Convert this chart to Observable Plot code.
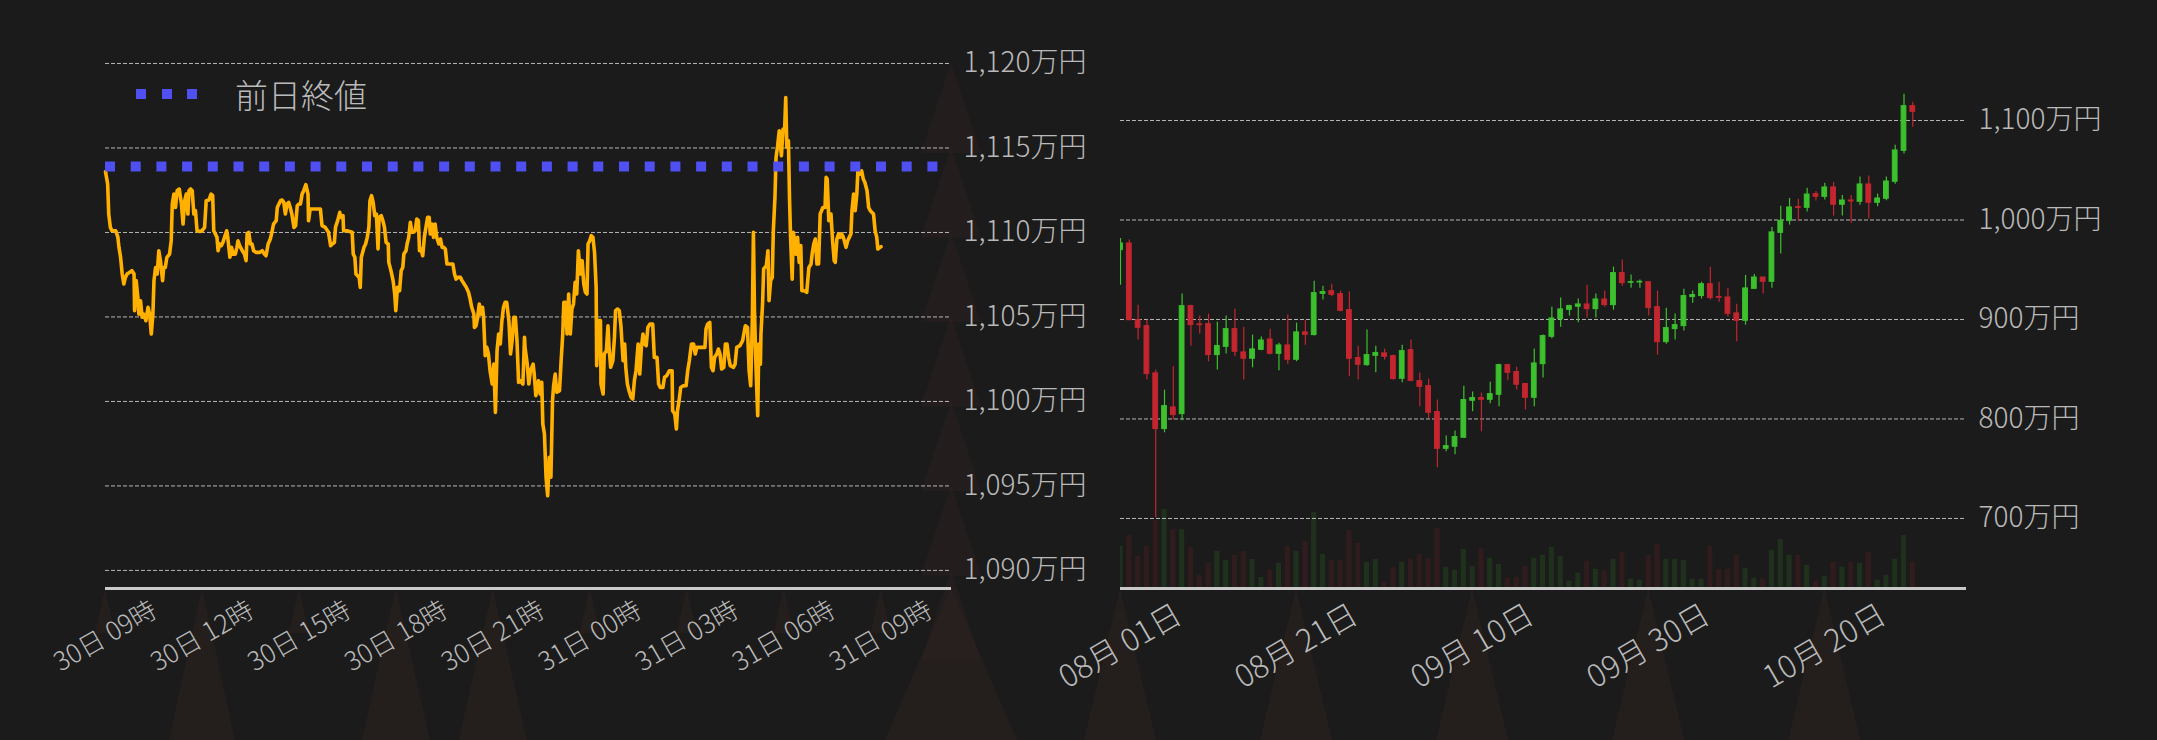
<!DOCTYPE html>
<html><head><meta charset="utf-8">
<script src="https://cdn.jsdelivr.net/npm/d3@7"></script>
<script src="https://cdn.jsdelivr.net/npm/@observablehq/plot@0.6"></script>
<style>
html,body{margin:0;padding:0;background:#1b1b1b;}
#wrap{position:relative;width:2157px;height:740px;overflow:hidden;background:#1b1b1b;font-family:"Noto Sans CJK JP","Noto Sans",sans-serif;}
#wrap > svg, #wrap > div.p{position:absolute;top:0;}
.sq{position:absolute;width:10px;height:10px;background:#4f4ff2;}
#lg{position:absolute;left:235px;top:76px;font-size:33px;line-height:36px;color:#bababa;font-weight:300;}
</style></head><body><div id="wrap"></div>
<script>
// ---------------- Left: intraday (万円) ----------------
const intradayMinutes = [0,4,6,9,12,19,20,23,25,28,31,34,37,40,45,49,53,54,57,60,62,65,68,71,75,79,82,85,88,90,93,96,99,102,106,108,111,114,119,122,124,127,130,133,137,141,144,147,150,153,155,158,161,164,167,170,175,179,184,187,192,196,199,201,204,207,209,212,215,218,221,225,227,231,234,237,241,244,246,249,254,258,261,263,266,269,272,275,280,286,291,295,298,302,306,309,312,317,319,322,325,328,331,334,337,340,343,346,350,353,356,359,362,365,368,372,376,377,380,387,396,
399,402,408,414,418,421,425,427,431,435,437,441,442,448,458,460,463,465,468,471,473,475,480,483,486,489,491,494,497,500,503,506,508,512,515,518,521,525,526,530,534,537,539,542,546,549,552,554,558,560,563,566,569,572,575,578,581,583,586,589,592,595,598,601,603,606,609,612,615,619,622,625,628,631,634,640,645,648,651,654,659,662,666,670,674,677,680,684,685,688,691,694,697,700,702,705,708,711,714,718,721,724,727,730,733,736,739,742,745,749,752,755,758,761,764,767,770,775,778,779,783,786,789,
794,796,799,804,807,810,812,815,818,821,824,827,830,832,835,838,843,846,849,851,854,857,860,863,866,869,872,875,878,882,885,888,891,894,896,899,902,905,908,911,912,916,919,920,924,926,930,933,935,938,942,945,947,951,954,957,961,964,966,969,972,976,979,982,985,989,992,995,998,1001,1004,1007,1011,1016,1019,1024,1027,1030,1035,1038,1042,1047,1052,1053,1057,1060,1062,1065,1068,1073,1078,1081,1084,1088,1092,1095,1098,1104,1113,1115,1118,1122,1125,1128,1131,1135,1138,1141,1144,1148,1151,1154,1157,1160,1166,1169,1172,1178,
1183,1188,1192,1195,1198,1201,1203,1205,1208,1211,1213,1216,1217,1220,1222,1227,1230,1232,1235,1238,1240,1243,1245,1248,1251,1255,1258,1261,1263,1265,1268,1270,1272,1275,1277,1280,1282,1285,1288,1291,1293,1297,1302,1306,1310,1312,1315,1318,1321,1324,1327,1332,1336,1338,1340,1343,1347,1350,1353,1355,1358,1361,1364,1367,1370,1375,1378,1381,1384,1386,1389,1392,1395,1397,1401,1404,1407,1410,1414,1417,1420,1426,1429,1432,1434,1438,1440];
const intradayPrice = [1113.6,1112.87,1111.09,1110.30,1110.10,1110.10,1110.01,1109.71,1109.12,1108.53,1107.54,1106.95,1107.34,1107.54,1107.64,1107.74,1107.54,1105.37,1107.15,1106.16,1105.17,1105.96,1104.98,1105.17,1104.78,1105.57,1105.17,1103.99,1105.17,1107.15,1107.93,1107.54,1108.92,1108.33,1107.15,1107.93,1107.93,1108.53,1108.72,1109.51,1111.68,1112.27,1111.48,1112.47,1112.57,1111.68,1110.50,1111.88,1112.27,1111.09,1112.47,1112.57,1112.47,1111.09,1111.29,1110.10,1110.06,1110.10,1110.30,1111.88,1111.92,1112.27,1112.18,1110.10,1109.91,1109.71,1108.92,1109.32,1109.22,1109.41,1109.71,1110.10,1109.71,1108.53,1109.12,1108.72,1108.72,1109.12,1109.51,1109.22,1108.92,1108.72,1108.33,1109.91,1110.01,1109.32,1109.32,1108.92,1108.82,1108.82,1108.92,1108.72,1108.62,1109.32,1109.61,1110.01,1110.50,1110.70,1111.48,1111.68,1111.88,1111.92,1111.78,1111.09,1111.68,1111.78,1111.48,1111.09,1110.30,1110.40,1111.58,1111.68,1111.68,1112.27,1112.47,1112.83,1112.27,1110.70,1111.39,1111.39,1111.39,
1111.39,1110.40,1110.30,1110.01,1109.22,1109.32,1109.41,1110.30,1110.70,1111.19,1110.89,1110.99,1110.10,1110.10,1110.01,1108.72,1108.53,1107.54,1107.44,1107.34,1106.75,1108.53,1109.12,1109.32,1109.71,1110.30,1111.88,1112.18,1111.78,1110.99,1111.09,1109.02,1110.89,1110.99,1110.70,1110.30,1109.41,1109.32,1108.23,1107.74,1107.15,1106.36,1105.37,1106.75,1106.55,1107.74,1107.93,1108.72,1108.92,1109.32,1109.71,1110.60,1110.01,1110.01,1110.10,1110.79,1110.70,1108.92,1109.02,1108.62,1109.71,1110.30,1110.89,1110.89,1109.91,1110.50,1109.71,1110.50,1109.71,1109.32,1109.61,1109.12,1109.12,1109.02,1108.13,1108.13,1108.13,1107.54,1107.24,1107.34,1107.34,1107.15,1106.95,1106.75,1106.46,1106.06,1105.57,1105.17,1104.38,1104.48,1104.98,1105.77,1105.17,1105.57,1104.98,1102.71,1103.20,1102.81,1101.82,1101.03,1102.21,1099.35,1103.00,1103.99,1103.40,1104.78,1105.57,1105.86,1105.86,1104.78,1102.81,1103.60,1104.98,1104.98,1103.60,1101.13,1101.23,1101.03,1103.79,1103.20,1102.21,1101.03,1101.82,
1102.21,1101.62,1100.34,1101.23,1100.44,1101.13,1098.66,1098.07,1095.51,1094.42,1096.69,1095.51,1100.05,1100.93,1101.62,1100.54,1100.64,1102.41,1103.99,1105.86,1105.86,1103.99,1106.36,1103.99,1105.47,1105.77,1107.05,1106.36,1108.92,1107.54,1108.33,1106.95,1106.46,1106.36,1109.32,1109.51,1109.81,1109.71,1108.82,1106.75,1102.12,1104.78,1104.78,1101.03,1100.44,1102.81,1103.00,1104.48,1103.20,1102.02,1102.41,1103.79,1105.37,1105.47,1105.37,1104.48,1102.41,1103.40,1102.02,1101.03,1100.64,1100.24,1100.14,1101.23,1101.82,1103.40,1101.62,1103.20,1103.99,1103.40,1103.30,1104.38,1104.58,1104.58,1102.61,1102.61,1101.03,1100.83,1100.83,1101.43,1101.52,1101.82,1101.82,1099.45,1099.26,1098.37,1099.45,1100.05,1100.83,1100.93,1100.93,1101.82,1102.41,1103.40,1103.40,1102.81,1103.20,1103.20,1103.20,1104.29,1104.58,1104.68,1102.02,1101.82,1102.61,1102.81,1103.10,1102.81,1101.92,1102.02,1103.40,1103.40,1102.61,1102.12,1102.02,1102.21,1103.20,1103.30,
1103.60,1104.48,1104.38,1101.82,1100.93,1104.78,1110.01,1105.37,1101.82,1099.16,1103.40,1102.21,1103.99,1105.77,1107.84,1108.03,1108.92,1105.96,1107.15,1107.34,1110.10,1112.08,1114.44,1115.13,1116.02,1114.54,1116.12,1116.12,1117.99,1115.04,1115.43,1112.08,1109.71,1107.24,1110.01,1109.51,1108.72,1109.71,1108.23,1109.22,1106.55,1106.55,1106.46,1107.93,1108.13,1108.72,1109.32,1109.61,1108.13,1108.13,1111.09,1111.48,1111.48,1113.26,1113.16,1110.70,1111.09,1109.51,1108.33,1108.23,1109.61,1109.91,1109.71,1109.91,1109.71,1109.12,1109.51,1109.71,1109.91,1111.29,1112.27,1111.29,1112.27,1113.65,1113.46,1113.65,1113.16,1112.96,1112.47,1111.48,1111.29,1111.09,1110.10,1109.71,1109.02,1109.12,1109.16];
const prevClose = 1113.9;
const leftTickHours = [0,3,6,9,12,15,18,21,24];
const leftTickLabels = ["30日 09時","30日 12時","30日 15時","30日 18時","30日 21時","31日 00時","31日 03時","31日 06時","31日 09時"];
const leftYTicks = [1090,1095,1100,1105,1110,1115,1120];
const legendLabel = "前日終値";

// ---------------- Right: daily candles (万円) ----------------
const candleDates = ["08-01","08-02","08-03","08-04","08-05","08-06","08-07","08-08","08-09","08-10","08-11","08-12","08-13","08-14","08-15","08-16","08-17","08-18","08-19","08-20","08-21","08-22","08-23","08-24","08-25","08-26","08-27","08-28","08-29","08-30","08-31",
"09-01","09-02","09-03","09-04","09-05","09-06","09-07","09-08","09-09","09-10","09-11","09-12","09-13","09-14","09-15","09-16","09-17","09-18","09-19","09-20","09-21","09-22","09-23","09-24","09-25","09-26","09-27","09-28","09-29","09-30",
"10-01","10-02","10-03","10-04","10-05","10-06","10-07","10-08","10-09","10-10","10-11","10-12","10-13","10-14","10-15","10-16","10-17","10-18","10-19","10-20","10-21","10-22","10-23","10-24","10-25","10-26","10-27","10-28","10-29","10-30"];
const openPrice = [969.7,976.4,899.3,893.3,845.8,789.8,811.6,804.9,913.4,895.0,895.3,864.2,872.5,890.3,866.9,860.5,869.5,879.9,865.5,873.9,859.5,887.0,884.3,925.8,928.5,925.5,909.4,861.2,854.1,863.5,865.9,
863.2,840.4,869.2,838.0,833.0,806.9,770.0,772.1,781.1,818.3,821.0,819.3,824.3,854.1,847.1,835.1,821.3,855.1,882.6,900.4,909.7,912.8,915.1,910.4,920.1,914.4,946.6,936.9,937.2,937.5,
912.4,877.2,890.3,893.3,922.5,923.5,935.5,922.5,922.1,906.1,898.7,930.8,942.2,937.9,987.1,999.2,1012.9,1012.2,1026.0,1023.3,1032.7,1015.3,1019.6,1018.3,1035.7,1017.3,1021.3,1038.4,1069.5,1114.4];
const highPrice = [981.4,979.8,914.4,899.3,849.1,829.0,852.5,925.5,914.4,903.4,905.4,897.3,903.4,910.4,892.3,884.3,882.3,890.3,876.2,904.4,896.3,899.3,938.5,933.5,935.5,928.5,927.5,873.2,889.3,873.2,870.2,
864.2,874.2,879.3,846.1,840.1,819.0,782.8,787.8,833.0,827.0,826.0,837.0,855.1,855.1,852.1,835.7,870.2,884.3,912.4,921.5,914.4,920.5,934.5,925.5,928.5,952.6,959.7,944.6,939.6,937.5,
928.5,911.4,905.4,930.5,928.5,937.5,952.6,937.5,931.2,915.4,944.2,945.2,942.2,992.5,1013.9,1021.6,1020.9,1032.0,1028.7,1037.0,1037.7,1024.6,1024.6,1043.1,1044.1,1026.0,1043.1,1075.2,1126.5,1118.4];
const lowPrice = [934.5,898.7,879.3,839.1,700.7,786.1,798.9,798.2,873.2,885.3,857.5,849.1,865.2,862.5,839.1,851.4,868.5,864.2,848.4,855.1,857.5,874.2,883.3,919.5,922.8,907.7,842.4,839.4,853.1,846.4,859.2,
839.1,836.4,837.4,812.3,800.5,751.0,767.0,764.0,780.4,807.2,787.1,815.3,812.3,838.4,829.0,809.0,812.3,841.1,880.6,892.3,903.4,896.7,901.4,901.4,912.4,909.4,933.5,931.5,931.5,903.4,
864.2,875.2,879.3,888.3,916.4,920.5,919.5,917.4,902.4,877.6,894.3,930.5,925.5,931.5,965.7,994.8,998.8,1007.9,1019.0,1020.0,1003.9,1003.9,996.8,1014.9,1000.9,1013.3,1019.3,1036.0,1066.2,1093.3];
const closePrice = [976.4,899.3,891.6,845.1,789.8,812.9,803.9,913.4,894.3,894.3,864.2,873.2,890.3,867.5,860.5,869.9,878.9,865.5,873.9,859.5,887.0,884.6,926.5,927.5,924.8,908.7,860.5,854.5,864.2,866.2,862.5,
840.1,868.2,838.4,832.3,806.2,770.0,772.7,781.8,819.0,821.0,819.3,825.0,854.1,846.4,834.4,821.3,855.8,883.3,901.0,910.1,913.4,915.1,910.4,920.1,914.4,946.6,936.5,937.5,937.9,911.4,
877.2,891.3,894.3,923.5,924.5,935.5,921.5,921.8,905.7,898.7,931.2,942.2,937.9,987.5,999.2,1012.6,1012.2,1025.6,1023.3,1032.7,1015.3,1019.6,1018.6,1035.7,1017.3,1021.6,1038.7,1069.9,1114.4,1108.7];
const volume = [127,160,97,127,205,238,177,177,123,39,76,112,85,100,112,87,33,55,76,127,112,142,229,103,85,85,175,136,79,88,19,
64,79,88,103,91,181,64,55,118,67,121,91,73,31,34,67,91,100,124,97,22,46,82,58,52,88,109,28,25,100,
133,88,88,85,28,28,127,58,58,100,61,31,28,115,148,100,100,70,22,37,79,64,79,76,109,25,40,88,160,79];
const rightTickDates = ["08-01","08-21","09-10","09-30","10-20"];
const rightTickLabels = ["08月 01日","08月 21日","09月 10日","09月 30日","10月 20日"];
const rightYTicks = [700,800,900,1000,1100];

// ---------------- styling ----------------
const FONT = '"Noto Sans CJK JP","Noto Sans",sans-serif';
const TEXT = "#b9b9b9";
const GRID = "#d2d2d2";
const UP = "#3cc02e", DOWN = "#c4262f";
const WATERMARK = "#2b2220";
const fmtYen = v => d3.format(",")(v) + "万円";
const HOUR = 3600000;

// faint triangular tick shapes drawn from the plot's own scales
function tickTriangles(ticks, opts) {
  return (index, scales, values, dims) => {
    const g = d3.create("svg:g");
    const bottom = dims.height - dims.marginBottom;
    const right = dims.width - dims.marginRight;
    if (opts.x) {
      ticks.forEach((t, i) => {
        const x = scales.x(t);
        const hw = opts.halfWidth[i % opts.halfWidth.length];
        const h = opts.height[i % opts.height.length];
        g.append("path").attr("d", `M${x},${bottom}L${x - hw},${bottom + h}L${x + hw},${bottom + h}Z`)
          .attr("fill", WATERMARK).attr("fill-opacity", 0.6);
      });
    } else {
      ticks.forEach(t => {
        const y = scales.y(t);
        g.append("path").attr("d", `M${right},${y}L${right - opts.hw},${y + opts.h}L${right + opts.hw},${y + opts.h}Z`)
          .attr("fill", WATERMARK).attr("fill-opacity", 0.5);
      });
      g.append("path").attr("d", `M${right},${bottom}L${right - 66},${dims.height}L${right + 66},${dims.height}Z`)
        .attr("fill", WATERMARK).attr("fill-opacity", 0.6);
    }
    return g.node();
  };
}

const wrap = document.getElementById("wrap");

// Left plot
const t0 = Date.UTC(2024, 9, 30, 9, 0);
const intraday = intradayMinutes.map((m, i) => ({date: new Date(t0 + m * 60000), price: intradayPrice[i]}));
const leftTicks = leftTickHours.map((h, i) => ({date: new Date(t0 + h * HOUR), label: leftTickLabels[i]}));
const leftYDomain = [1088.93, 1121.36];

const left = Plot.plot({
  width: 1080, height: 740,
  marginLeft: 105, marginRight: 129, marginTop: 40, marginBottom: 152,
  style: {background: "transparent", color: TEXT, fontFamily: FONT, fontSize: "28px", overflow: "visible"},
  x: {type: "utc", domain: [new Date(t0), new Date(t0 + 26.18 * HOUR)], axis: null},
  y: {domain: leftYDomain, axis: null},
  marks: [
    tickTriangles(leftTicks.map(d => d.date), {x: true, halfWidth: [10, 33, 10, 34, 34, 10, 10, 10, 10], height: [45, 152, 45, 152, 152, 45, 45, 45, 45]}),
    tickTriangles(leftYTicks, {x: false, hw: 30, h: 90}),
    Plot.ruleY(leftYTicks, {stroke: GRID, strokeWidth: 1, strokeDasharray: "4,2", strokeOpacity: 0.85}),
    Plot.axisY(leftYTicks, {anchor: "right", label: null, tickSize: 0, tickPadding: 12, tickFormat: fmtYen, fontSize: 28, fontWeight: 300, fill: TEXT}),
    Plot.line(intraday, {x: "date", y: "price", stroke: "#ffb000", strokeWidth: 3.6, strokeLinejoin: "round", strokeLinecap: "round"}),
    Plot.ruleY([prevClose], {stroke: "#4f4ff2", strokeWidth: 10, strokeDasharray: "10,15.7"}),
    Plot.ruleY([leftYDomain[0]], {stroke: "#c9c9c9", strokeWidth: 3}),
    Plot.text(leftTicks, {x: "date", frameAnchor: "bottom", text: "label", rotate: -30, dy: 48, textAnchor: "middle", lineAnchor: "middle", fontSize: 26, fontWeight: 300, fill: TEXT})
  ]
});
left.style.left = "0px";
wrap.appendChild(left);

// legend
[136, 161.7, 187.3].forEach(x => {
  const s = document.createElement("div");
  s.className = "sq"; s.style.left = x + "px"; s.style.top = "89px";
  wrap.appendChild(s);
});
const lg = document.createElement("div");
lg.id = "lg"; lg.textContent = legendLabel;
wrap.appendChild(lg);

// Right plots
const day = s => new Date(`2024-${s}T00:00:00Z`);
const candles = candleDates.map((s, i) => {
  const d = day(s);
  return {date: d, x1: new Date(+d - 6.5 * HOUR), x2: new Date(+d + 6.5 * HOUR),
    vx1: new Date(+d - 7 * HOUR), vx2: new Date(+d + 7 * HOUR),
    open: openPrice[i], high: highPrice[i], low: lowPrice[i], close: closePrice[i],
    volume: volume[i], up: closePrice[i] >= openPrice[i]};
});
const rightXDomain = [day("08-01"), new Date(+day("08-01") + 96.1 * 24 * HOUR)];
const rightYDomain = [629.6, 1160.3];
const rightTicks = rightTickDates.map((s, i) => ({date: day(s), label: rightTickLabels[i]}));
const geom = {width: 1077, height: 740, marginLeft: 40, marginRight: 191, marginTop: 60, marginBottom: 152};

const vol = Plot.plot({
  ...geom,
  style: {background: "transparent", overflow: "visible"},
  x: {type: "utc", domain: rightXDomain, axis: null},
  y: {domain: [0, 1591], axis: null},
  marks: [
    tickTriangles(rightTicks.map(d => d.date), {x: true, halfWidth: [36], height: [152]}),
    Plot.rectY(candles, {x1: "vx1", x2: "vx2", y: "volume", fill: d => d.up ? UP : DOWN, fillOpacity: 0.13, clip: true})
  ]
});
vol.style.left = "1080px";
wrap.appendChild(vol);

const right = Plot.plot({
  ...geom,
  style: {background: "transparent", color: TEXT, fontFamily: FONT, fontSize: "28px", overflow: "visible"},
  x: {type: "utc", domain: rightXDomain, axis: null},
  y: {domain: rightYDomain, axis: null},
  marks: [
    Plot.ruleY(rightYTicks, {stroke: GRID, strokeWidth: 1, strokeDasharray: "4,2", strokeOpacity: 0.85}),
    Plot.axisY(rightYTicks, {anchor: "right", label: null, tickSize: 0, tickPadding: 12, tickFormat: fmtYen, fontSize: 28, fontWeight: 300, fill: TEXT}),
    Plot.ruleX(candles, {x: "date", y1: "low", y2: "high", stroke: d => d.up ? UP : DOWN, strokeWidth: 1.2, clip: true}),
    Plot.rect(candles, {x1: "x1", x2: "x2", y1: "open", y2: "close", fill: d => d.up ? UP : DOWN, stroke: d => d.up ? UP : DOWN, strokeWidth: 1, clip: true}),
    Plot.ruleY([rightYDomain[0]], {stroke: "#c9c9c9", strokeWidth: 3}),
    Plot.text(rightTicks, {x: "date", frameAnchor: "bottom", text: "label", rotate: -30, dy: 58, textAnchor: "middle", lineAnchor: "middle", fontSize: 31, fontWeight: 300, fill: TEXT})
  ]
});
right.style.left = "1080px";
wrap.appendChild(right);
</script>
</body></html>
